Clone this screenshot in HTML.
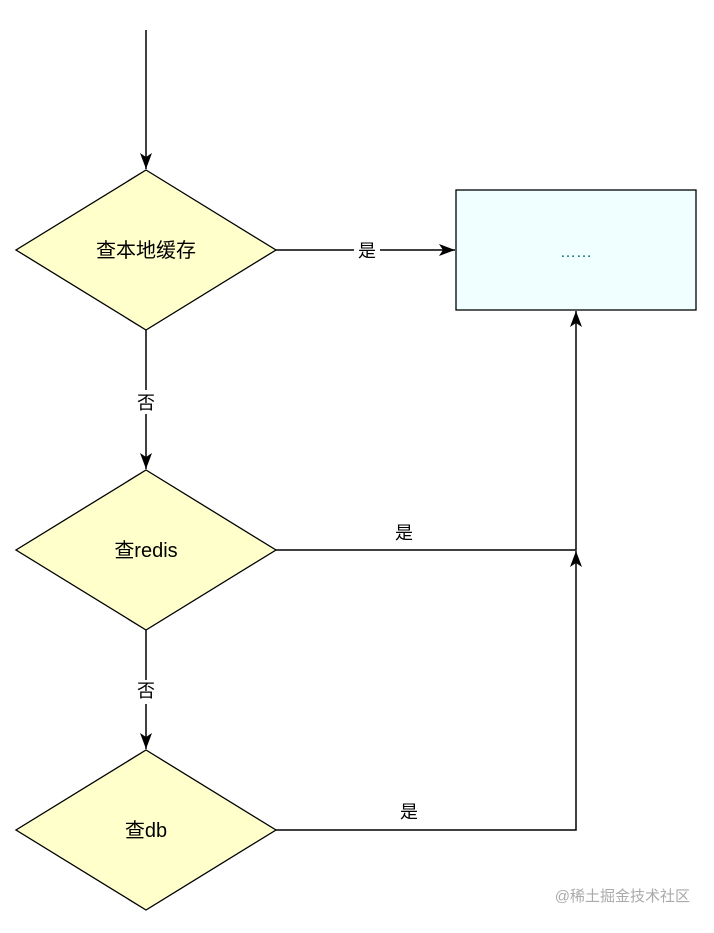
<!DOCTYPE html>
<html><head><meta charset="utf-8"><style>
html,body{margin:0;padding:0;background:#fff;}
svg text{font-family:"Liberation Sans","Noto Sans CJK SC",sans-serif;}
</style></head><body>
<svg width="714" height="928" viewBox="0 0 714 928" xmlns="http://www.w3.org/2000/svg">
<defs><marker id="a" viewBox="0 0 16 12" refX="16" refY="6" markerWidth="16" markerHeight="12" markerUnits="userSpaceOnUse" orient="auto"><path d="M0,0 L16,6 L0,12 L4,6 Z" fill="#000"/></marker></defs>
<g stroke="#000" stroke-width="1.5" fill="none">
<line x1="146" y1="30" x2="146" y2="169" marker-end="url(#a)"/>
<line x1="276" y1="250" x2="455" y2="250" marker-end="url(#a)"/>
<line x1="146" y1="330" x2="146" y2="469" marker-end="url(#a)"/>
<line x1="146" y1="630" x2="146" y2="749" marker-end="url(#a)"/>
<polyline points="276,550 576,550 576,311" marker-end="url(#a)"/>
<polyline points="276,830 576,830 576,551" marker-end="url(#a)"/>
</g>
<g fill="#ffffcc" stroke="#000" stroke-width="1.3">
<polygon points="146,170 276,250 146,330 16,250"/>
<polygon points="146,470 276,550 146,630 16,550"/>
<polygon points="146,750 276,830 146,910 16,830"/>
</g>
<rect x="456" y="190" width="240" height="120" fill="#f0ffff" stroke="#000" stroke-width="1.3"/>
<g font-size="20" fill="#000" text-anchor="middle">
<text x="146" y="257">查本地缓存</text>
<text x="146" y="557">查redis</text>
<text x="146" y="837">查db</text>
</g>
<text x="576" y="257" font-size="16" fill="#006666" text-anchor="middle">……</text>
<g font-size="18" fill="#000" text-anchor="middle">
<rect x="354" y="240" width="26" height="22" fill="#fff"/>
<text x="367" y="257">是</text>
<rect x="132" y="390" width="28" height="24" fill="#fff"/>
<text x="146" y="409">否</text>
<rect x="132" y="680" width="28" height="24" fill="#fff"/>
<text x="146" y="697">否</text>
<text x="404" y="539">是</text>
<text x="409" y="818">是</text>
</g>
<text x="690" y="901" font-size="15" fill="#aaa" text-anchor="end">@稀土掘金技术社区</text>
</svg>
</body></html>
